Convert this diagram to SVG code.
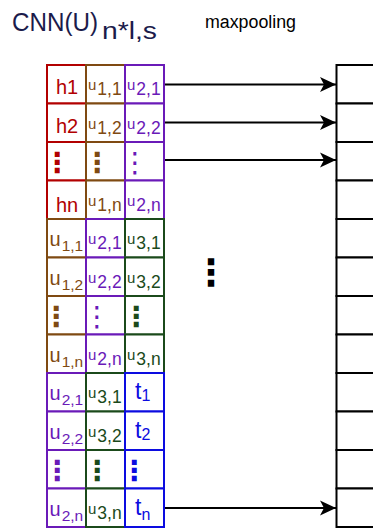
<svg xmlns="http://www.w3.org/2000/svg" width="373" height="529" viewBox="0 0 373 529">
<defs>
<style>
.c rect{fill:#fff;stroke-width:2}
.r rect{stroke:#b20000}.r text{fill:#b20000}
.b rect{stroke:#7f4a12}.b text{fill:#7f4a12}
.p rect{stroke:#6a1ab8}.p text{fill:#6a1ab8}
.g rect{stroke:#1b4a1b}.g text{fill:#1b4a1b}
.t rect{stroke:#0c0ce0}.t text{fill:#0c0ce0}
text{font-family:"Liberation Sans",Arial,sans-serif}
.h{font-size:20px}
.ub{font-size:20px}
.us{font-size:15px}
.sb{font-size:15.5px}
.ss{font-size:17.5px}
.tt{font-size:23px}
.ts{font-size:16px}
.d{font-family:"DejaVu Sans",sans-serif;font-size:28px;text-anchor:middle}
.db{font-weight:bold}
.big{font-size:36px}
.mp rect{fill:#fff;stroke:#000;stroke-width:2}
.conn line{stroke:#000;stroke-width:2}
</style>
<marker id="ah" markerUnits="userSpaceOnUse" markerWidth="17" markerHeight="16" refX="16" refY="8" orient="auto">
<path d="M0,0.5 L16,8 L0,15.5 L4,8 Z" fill="#000"/>
</marker>
</defs>
<rect width="373" height="529" fill="#fff"/>
<text x="12" y="31" font-family="'Open Sans',sans-serif" font-size="25" fill="#1b1b4b" textLength="86" lengthAdjust="spacingAndGlyphs">CNN(U)</text>
<text x="102" y="39" font-family="'Open Sans',sans-serif" font-size="23" fill="#1b1b4b" textLength="55" lengthAdjust="spacingAndGlyphs">n*l,s</text>
<text x="205" y="28" font-size="18" fill="#000" textLength="91" lengthAdjust="spacingAndGlyphs">maxpooling</text>

<!-- row 1 -->
<g id="c1a" class="c r"><rect x="47" y="65" width="39" height="38.5"/><text class="h" x="56" y="94">h1</text></g>
<g id="c1b" class="c b"><rect x="86" y="65" width="39" height="38.5"/><text x="88" y="90"><tspan class="us">u</tspan><tspan class="ss" dx="1" dy="5">1,1</tspan></text></g>
<g id="c1c" class="c p"><rect x="125" y="65" width="39" height="38.5"/><text x="127" y="90"><tspan class="us">u</tspan><tspan class="ss" dx="1" dy="5">2,1</tspan></text></g>
<!-- row 2 -->
<g id="c2a" class="c r"><rect x="47" y="103.5" width="39" height="38.5"/><text class="h" x="56" y="132.5">h2</text></g>
<g id="c2b" class="c b"><rect x="86" y="103.5" width="39" height="38.5"/><text x="88" y="128.5"><tspan class="us">u</tspan><tspan class="ss" dx="1" dy="5">1,2</tspan></text></g>
<g id="c2c" class="c p"><rect x="125" y="103.5" width="39" height="38.5"/><text x="127" y="128.5"><tspan class="us">u</tspan><tspan class="ss" dx="1" dy="5">2,2</tspan></text></g>
<!-- row 3 -->
<g id="c3a" class="c r"><rect x="47" y="142" width="39" height="38.5"/><text class="d db" x="57" y="172">⋮</text></g>
<g id="c3b" class="c b"><rect x="86" y="142" width="39" height="38.5"/><text class="d db" x="97" y="172">⋮</text></g>
<g id="c3c" class="c p"><rect x="125" y="142" width="39" height="38.5"/><text class="d" x="135" y="172">⋮</text></g>
<!-- row 4 -->
<g id="c4a" class="c r"><rect x="47" y="180.5" width="39" height="38.5"/><text class="h" x="56" y="211.5">hn</text></g>
<g id="c4b" class="c b"><rect x="86" y="180.5" width="39" height="38.5"/><text x="88" y="205.5"><tspan class="us">u</tspan><tspan class="ss" dx="1" dy="5">1,n</tspan></text></g>
<g id="c4c" class="c p"><rect x="125" y="180.5" width="39" height="38.5"/><text x="127" y="205.5"><tspan class="us">u</tspan><tspan class="ss" dx="1" dy="5">2,n</tspan></text></g>
<!-- row 5 -->
<g id="c5a" class="c b"><rect x="47" y="219" width="39" height="38.5"/><text x="49.5" y="246"><tspan class="ub">u</tspan><tspan class="sb" dx="1" dy="5">1,1</tspan></text></g>
<g id="c5b" class="c p"><rect x="86" y="219" width="39" height="38.5"/><text x="88" y="244"><tspan class="us">u</tspan><tspan class="ss" dx="1" dy="5">2,1</tspan></text></g>
<g id="c5c" class="c g"><rect x="125" y="219" width="39" height="38.5"/><text x="127" y="244"><tspan class="us">u</tspan><tspan class="ss" dx="1" dy="5">3,1</tspan></text></g>
<!-- row 6 -->
<g id="c6a" class="c b"><rect x="47" y="257.5" width="39" height="38.5"/><text x="49.5" y="284.5"><tspan class="ub">u</tspan><tspan class="sb" dx="1" dy="5">1,2</tspan></text></g>
<g id="c6b" class="c p"><rect x="86" y="257.5" width="39" height="38.5"/><text x="88" y="282.5"><tspan class="us">u</tspan><tspan class="ss" dx="1" dy="5">2,2</tspan></text></g>
<g id="c6c" class="c g"><rect x="125" y="257.5" width="39" height="38.5"/><text x="127" y="282.5"><tspan class="us">u</tspan><tspan class="ss" dx="1" dy="5">3,2</tspan></text></g>
<!-- row 7 -->
<g id="c7a" class="c b"><rect x="47" y="296" width="39" height="38.5"/><text class="d db" x="56" y="326">⋮</text></g>
<g id="c7b" class="c p"><rect x="86" y="296" width="39" height="38.5"/><text class="d" x="97" y="326">⋮</text></g>
<g id="c7c" class="c g"><rect x="125" y="296" width="39" height="38.5"/><text class="d db" x="136" y="326">⋮</text></g>
<!-- row 8 -->
<g id="c8a" class="c b"><rect x="47" y="334.5" width="39" height="38.5"/><text x="49.5" y="361.5"><tspan class="ub">u</tspan><tspan class="sb" dx="1" dy="5">1,n</tspan></text></g>
<g id="c8b" class="c p"><rect x="86" y="334.5" width="39" height="38.5"/><text x="88" y="359.5"><tspan class="us">u</tspan><tspan class="ss" dx="1" dy="5">2,n</tspan></text></g>
<g id="c8c" class="c g"><rect x="125" y="334.5" width="39" height="38.5"/><text x="127" y="359.5"><tspan class="us">u</tspan><tspan class="ss" dx="1" dy="5">3,n</tspan></text></g>
<!-- row 9 -->
<g id="c9a" class="c p"><rect x="47" y="373" width="39" height="38.5"/><text x="49.5" y="400"><tspan class="ub">u</tspan><tspan class="sb" dx="1" dy="5">2,1</tspan></text></g>
<g id="c9b" class="c g"><rect x="86" y="373" width="39" height="38.5"/><text x="88" y="398"><tspan class="us">u</tspan><tspan class="ss" dx="1" dy="5">3,1</tspan></text></g>
<g id="c9c" class="c t"><rect x="125" y="373" width="39" height="38.5"/><text x="135" y="399"><tspan class="tt">t</tspan><tspan class="ts" dy="2">1</tspan></text></g>
<!-- row 10 -->
<g id="c10a" class="c p"><rect x="47" y="411.5" width="39" height="38.5"/><text x="49.5" y="438.5"><tspan class="ub">u</tspan><tspan class="sb" dx="1" dy="5">2,2</tspan></text></g>
<g id="c10b" class="c g"><rect x="86" y="411.5" width="39" height="38.5"/><text x="88" y="436.5"><tspan class="us">u</tspan><tspan class="ss" dx="1" dy="5">3,2</tspan></text></g>
<g id="c10c" class="c t"><rect x="125" y="411.5" width="39" height="38.5"/><text x="135" y="437.5"><tspan class="tt">t</tspan><tspan class="ts" dy="2">2</tspan></text></g>
<!-- row 11 -->
<g id="c11a" class="c p"><rect x="47" y="450" width="39" height="38.5"/><text class="d db" x="57" y="480">⋮</text></g>
<g id="c11b" class="c g"><rect x="86" y="450" width="39" height="38.5"/><text class="d db" x="97" y="480">⋮</text></g>
<g id="c11c" class="c t"><rect x="125" y="450" width="39" height="38.5"/><text class="d db" x="134" y="480">⋮</text></g>
<!-- row 12 -->
<g id="c12a" class="c p"><rect x="47" y="488.5" width="39" height="38.5"/><text x="49.5" y="515.5"><tspan class="ub">u</tspan><tspan class="sb" dx="1" dy="5">2,n</tspan></text></g>
<g id="c12b" class="c g"><rect x="86" y="488.5" width="39" height="38.5"/><text x="88" y="513.5"><tspan class="us">u</tspan><tspan class="ss" dx="1" dy="5">3,n</tspan></text></g>
<g id="c12c" class="c t"><rect x="125" y="488.5" width="39" height="38.5"/><text x="135" y="515"><tspan class="tt">t</tspan><tspan class="ts" dy="5">n</tspan></text></g>

<!-- maxpooling column -->
<g id="maxpool" class="mp">
<rect x="336.5" y="65" width="50" height="38.5"/>
<rect x="336.5" y="103.5" width="50" height="38.5"/>
<rect x="336.5" y="142" width="50" height="38.5"/>
<rect x="336.5" y="180.5" width="50" height="38.5"/>
<rect x="336.5" y="219" width="50" height="38.5"/>
<rect x="336.5" y="257.5" width="50" height="38.5"/>
<rect x="336.5" y="296" width="50" height="38.5"/>
<rect x="336.5" y="334.5" width="50" height="38.5"/>
<rect x="336.5" y="373" width="50" height="38.5"/>
<rect x="336.5" y="411.5" width="50" height="38.5"/>
<rect x="336.5" y="450" width="50" height="38.5"/>
<rect x="336.5" y="488.5" width="50" height="38.5"/>
</g>

<text id="ellipsis" class="d db big" x="211" y="285">⋮</text>

<g id="connectors" class="conn">
<line x1="165" y1="84.5" x2="336" y2="84.5" marker-end="url(#ah)"/>
<line x1="165" y1="122.5" x2="336" y2="122.5" marker-end="url(#ah)"/>
<line x1="165" y1="160" x2="336" y2="160" marker-end="url(#ah)"/>
<line x1="165" y1="508" x2="336" y2="508" marker-end="url(#ah)"/>
</g>
</svg>
